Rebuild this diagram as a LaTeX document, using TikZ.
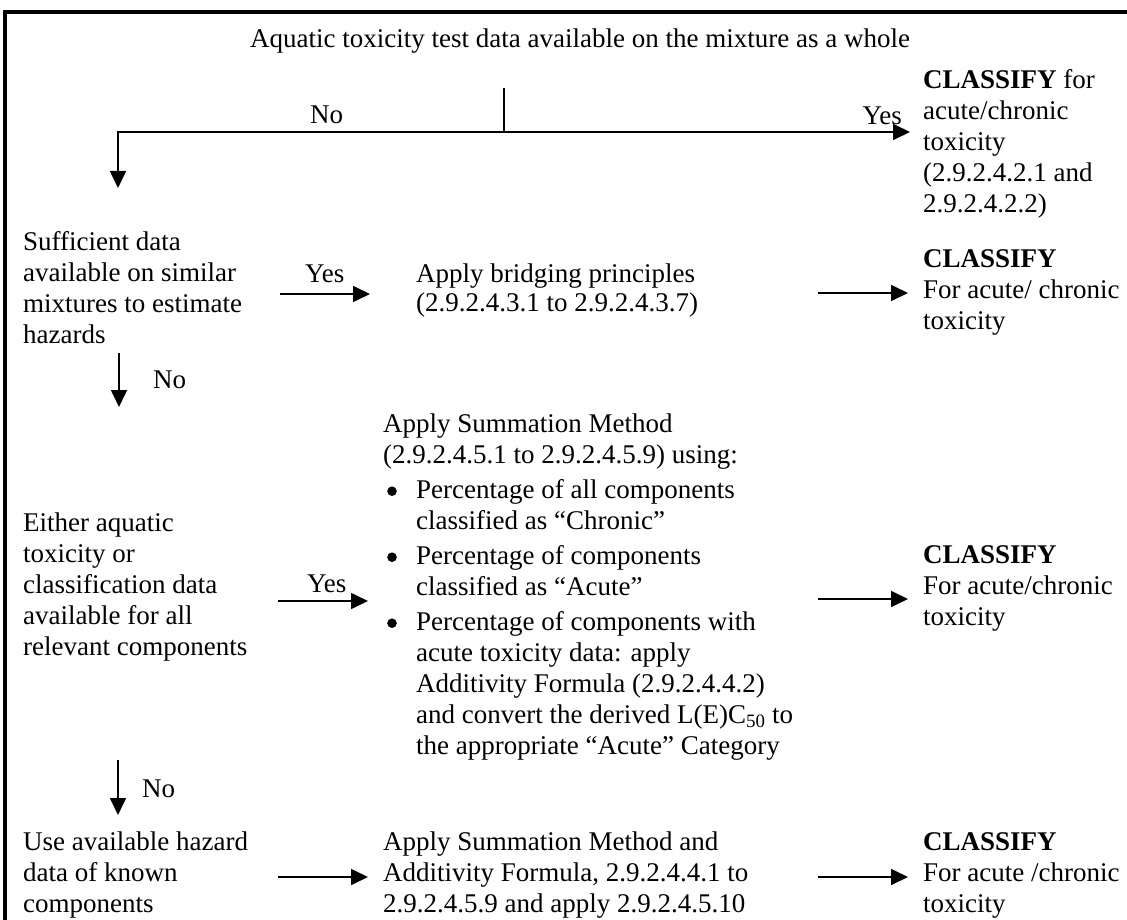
\documentclass[tikz,border=0pt]{standalone}
\usepackage{fontspec}
\setmainfont{Liberation Serif}
\usetikzlibrary{arrows.meta}
\newcommand\mybul{\makebox[33pt][l]{\hspace{4pt}\tikz[baseline=0pt]\fill (5pt,7pt) circle (4.8pt);}}
\newcommand\myind{\hspace*{33pt}}
\begin{document}
\begin{tikzpicture}[x=1pt,y=-1pt,
  txt/.style={inner sep=0pt, anchor=north west, align=left, font=\fontsize{27}{31}\selectfont},
  lbl/.style={inner sep=0pt, anchor=base west, font=\fontsize{27}{31}\selectfont},
  ln/.style={line width=1.7pt},
  arr/.style={line width=1.7pt, -{Triangle[length=17pt,width=16pt]}},
  frame/.style={line width=4pt}]
\useasboundingbox (0,0) rectangle (1127,920);
% frame
\coordinate (fBL) at (5,922);
\coordinate (fTL) at (5,12);
\coordinate (fTR) at (1129,12);
\draw[frame] (fBL) -- (fTL) -- (fTR);

% row 1
\node[lbl, anchor=base] (title) at (580,48) {Aquatic toxicity test data available on the mixture as a whole};
\coordinate (tickTop) at (504,88);
\coordinate (tickBot) at (504,132);
\coordinate (yesTip) at (910,132);
\coordinate (noTip) at (118,188);
\draw[ln] (tickTop) -- (tickBot);
\draw[arr] (tickBot) -- (yesTip);
\draw[arr] (tickBot) -| (noTip);
\node[lbl] (no1) at (310,124) {No};
\node[lbl, anchor=base east] (yes1) at (902,125) {Yes};
\node[txt] (c1) at (923,66.3) {\strut\textbf{CLASSIFY} for\\acute/chronic\\toxicity\\(2.9.2.4.2.1 and\\2.9.2.4.2.2)};

% row 2
\node[txt] (q2) at (23,228.3) {\strut Sufficient data\\available on similar\\mixtures to estimate\\hazards};
\node[lbl] (yes2) at (305,282) {Yes};
\coordinate (a2s) at (280,294);
\coordinate (a2e) at (370,294);
\draw[arr] (a2s) -- (a2e);
\node[txt] (m2) at (416,260.3) {\strut Apply bridging principles\\[-2pt](2.9.2.4.3.1 to 2.9.2.4.3.7)};
\coordinate (b2s) at (818,293);
\coordinate (b2e) at (908,293);
\draw[arr] (b2s) -- (b2e);
\node[txt] (c2) at (923,245.3) {\strut\textbf{CLASSIFY}\\For acute/ chronic\\toxicity};
\coordinate (d2s) at (119,353);
\coordinate (d2e) at (119,407);
\draw[arr] (d2s) -- (d2e);
\node[lbl] (no2) at (153,388) {No};

% row 3
\node[txt] (q3) at (23,509.3) {\strut Either aquatic\\toxicity or\\classification data\\available for all\\relevant components};
\node[lbl] (yes3) at (307,592) {Yes};
\coordinate (a3s) at (278,601);
\coordinate (a3e) at (368,601);
\draw[arr] (a3s) -- (a3e);
\node[txt] (m3) at (383,410.3) {\strut Apply Summation Method\\
(2.9.2.4.5.1 to 2.9.2.4.5.9) using:\\[4pt]
\mybul Percentage of all components\\
\myind classified as “Chronic”\\[4pt]
\mybul Percentage of components\\
\myind classified as “Acute”\\[4pt]
\mybul Percentage of components with\\
\myind acute toxicity data: apply\\
\myind Additivity Formula (2.9.2.4.4.2)\\
\myind and convert the derived L(E)C\textsubscript{50} to\\
\myind the appropriate “Acute” Category};
\coordinate (b3s) at (818,599);
\coordinate (b3e) at (908,599);
\draw[arr] (b3s) -- (b3e);
\node[txt] (c3) at (923,541.3) {\strut\textbf{CLASSIFY}\\For acute/chronic\\toxicity};
\coordinate (d3s) at (118,760);
\coordinate (d3e) at (118,815);
\draw[arr] (d3s) -- (d3e);
\node[lbl] (no3) at (142,797) {No};

% row 4
\node[txt] (q4) at (23,828.3) {\strut Use available hazard\\data of known\\components};
\coordinate (a4s) at (278,877);
\coordinate (a4e) at (368,877);
\draw[arr] (a4s) -- (a4e);
\node[txt] (m4) at (383,828.3) {\strut Apply Summation Method and\\Additivity Formula, 2.9.2.4.4.1 to\\2.9.2.4.5.9 and apply 2.9.2.4.5.10};
\coordinate (b4s) at (818,877);
\coordinate (b4e) at (908,877);
\draw[arr] (b4s) -- (b4e);
\node[txt] (c4) at (923,828.3) {\strut\textbf{CLASSIFY}\\For acute /chronic\\toxicity};
\end{tikzpicture}
\end{document}
